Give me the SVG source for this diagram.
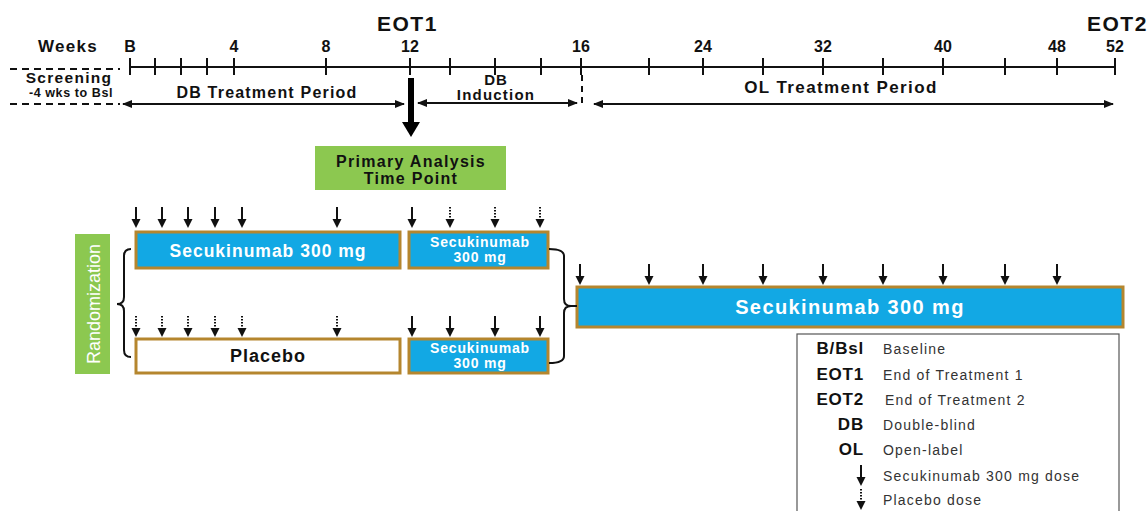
<svg xmlns="http://www.w3.org/2000/svg" xmlns:xlink="http://www.w3.org/1999/xlink" width="1148" height="511" viewBox="0 0 1148 511">
<style>
text{font-family:"Liberation Sans",Arial,sans-serif;}
.b{font-weight:bold;fill:#111;}
.tk{font-weight:bold;font-size:16px;fill:#111;text-anchor:middle;}
.eot{font-weight:bold;font-size:21px;fill:#111;letter-spacing:1.5px;}
.ln{stroke:#111;stroke-width:2;fill:none;}
.blue{fill:#12A8E4;stroke:#B5862E;stroke-width:3;}
.wbox{fill:#fff;stroke:#B5862E;stroke-width:3;}
.green{fill:#8CC850;}
.wt{font-weight:bold;fill:#fff;text-anchor:middle;}
.lg{font-size:14px;fill:#333;letter-spacing:1.2px;}
.la{font-weight:bold;font-size:17px;fill:#111;text-anchor:end;letter-spacing:0.8px;}
</style>
<defs>
<marker id="ah" viewBox="0 0 10 10" refX="9" refY="5" markerWidth="10" markerHeight="10" markerUnits="userSpaceOnUse" orient="auto-start-reverse">
<path d="M0,1 L10,5 L0,9 Z" fill="#111"/>
</marker>
<g id="dose">
<line x1="0" y1="0" x2="0" y2="14" stroke="#111" stroke-width="2"/>
<path d="M-4.5,12 L4.5,12 L0,21 Z" fill="#111"/>
</g>
<g id="pbo">
<line x1="0" y1="0" x2="0" y2="13" stroke="#111" stroke-width="2" stroke-dasharray="1.6,1.4"/>
<path d="M-4.5,12 L4.5,12 L0,21 Z" fill="#111"/>
</g>
</defs>
<rect width="1148" height="511" fill="#fff"/>

<g id="timeline">
<line class="ln" x1="130" y1="67" x2="1116" y2="67"/>
<g class="ln">
<line x1="130" y1="58" x2="130" y2="75"/><line x1="155" y1="58" x2="155" y2="75"/>
<line x1="181" y1="58" x2="181" y2="75"/><line x1="207" y1="58" x2="207" y2="75"/>
<line x1="234" y1="58" x2="234" y2="75"/><line x1="326" y1="58" x2="326" y2="75"/>
<line x1="410" y1="58" x2="410" y2="75"/><line x1="450" y1="58" x2="450" y2="75"/>
<line x1="495" y1="58" x2="495" y2="75"/><line x1="541" y1="58" x2="541" y2="75"/>
<line x1="581" y1="58" x2="581" y2="75"/><line x1="649" y1="58" x2="649" y2="75"/>
<line x1="703" y1="58" x2="703" y2="75"/><line x1="763" y1="58" x2="763" y2="75"/>
<line x1="823" y1="58" x2="823" y2="75"/><line x1="883" y1="58" x2="883" y2="75"/>
<line x1="943" y1="58" x2="943" y2="75"/><line x1="1005" y1="58" x2="1005" y2="75"/>
<line x1="1057" y1="58" x2="1057" y2="75"/><line x1="1115" y1="58" x2="1115" y2="75"/>
</g>
<text class="b" x="38" y="52" font-size="17" letter-spacing="1.3">Weeks</text>
<text class="tk" x="130" y="52">B</text>
<text class="tk" x="234" y="52">4</text>
<text class="tk" x="326" y="52">8</text>
<text class="tk" x="410" y="52">12</text>
<text class="tk" x="581" y="52">16</text>
<text class="tk" x="703" y="52">24</text>
<text class="tk" x="823" y="52">32</text>
<text class="tk" x="943" y="52">40</text>
<text class="tk" x="1057" y="52">48</text>
<text class="tk" x="1115" y="52">52</text>
<text class="eot" x="377" y="31">EOT1</text>
<text class="eot" x="1087" y="31">EOT2</text>
</g>

<g id="screening">
<line x1="10" y1="69" x2="120" y2="69" stroke="#111" stroke-width="2" stroke-dasharray="7,5"/>
<line x1="10" y1="104" x2="120" y2="104" stroke="#111" stroke-width="2" stroke-dasharray="7,5"/>
<text class="b" x="69" y="83" font-size="15.5" text-anchor="middle" letter-spacing="1.3">Screening</text>
<text class="b" x="71" y="97" font-size="12.5" text-anchor="middle" fill="#222" letter-spacing="0.6">-4 wks to Bsl</text>
</g>

<g id="periods">
<text class="b" x="267" y="98" font-size="16" text-anchor="middle" letter-spacing="1.2">DB Treatment Period</text>
<text class="b" x="496" y="85" font-size="15" text-anchor="middle" letter-spacing="1">DB</text>
<text class="b" x="496" y="100" font-size="15" text-anchor="middle" letter-spacing="1.2">Induction</text>
<text class="b" x="841" y="93" font-size="17" text-anchor="middle" letter-spacing="1.4">OL Treatment Period</text>
</g>

<g id="primary">
<rect class="green" x="315" y="146" width="191" height="44"/>
<text class="b" x="411" y="167" font-size="16" text-anchor="middle" letter-spacing="1.3">Primary Analysis</text>
<text class="b" x="411" y="184" font-size="16" text-anchor="middle" letter-spacing="1.3">Time Point</text>
</g>

<g id="randomization">
<rect class="green" x="75" y="234" width="35" height="140"/>
<text x="0" y="0" transform="translate(99.5,304) rotate(-90)" font-size="18" fill="#fff" text-anchor="middle">Randomization</text>
</g>

<g id="secuk-db">
<rect class="blue" x="136" y="232" width="264" height="36"/>
<text class="wt" x="268" y="257" font-size="17.5" letter-spacing="1">Secukinumab 300 mg</text>
</g>
<g id="secuk-ind-1">
<rect class="blue" x="409" y="232" width="139" height="36"/>
<text class="wt" x="480" y="247" font-size="14" letter-spacing="0.8">Secukinumab</text>
<text class="wt" x="480" y="262" font-size="14" letter-spacing="0.8">300 mg</text>
</g>
<g id="placebo">
<rect class="wbox" x="136" y="339" width="264" height="34"/>
<text class="b" x="268" y="362" font-size="18" text-anchor="middle" letter-spacing="1">Placebo</text>
</g>
<g id="secuk-ind-2">
<rect class="blue" x="409" y="339" width="139" height="34"/>
<text class="wt" x="480" y="353" font-size="14" letter-spacing="0.8">Secukinumab</text>
<text class="wt" x="480" y="368" font-size="14" letter-spacing="0.8">300 mg</text>
</g>
<g id="secuk-ol">
<rect class="blue" x="577" y="287" width="546" height="40"/>
<text class="wt" x="850" y="314" font-size="20" letter-spacing="1.4">Secukinumab 300 mg</text>
</g>

<g id="connectors">
<line class="ln" x1="123" y1="104" x2="404" y2="104" marker-start="url(#ah)" marker-end="url(#ah)"/>
<line class="ln" x1="418" y1="103" x2="577" y2="103" marker-start="url(#ah)" marker-end="url(#ah)"/>
<line class="ln" x1="594" y1="104" x2="1113" y2="104" marker-start="url(#ah)" marker-end="url(#ah)"/>
<line x1="582" y1="75" x2="582" y2="106" stroke="#111" stroke-width="2" stroke-dasharray="6,5"/>
<rect x="408" y="78" width="6" height="45" fill="#000"/>
<path d="M402,122 L420,122 L411,137 Z" fill="#000"/>
<path class="ln" d="M131,249 Q124,249 124,256 L124,297 Q124,304 117,304 Q124,304 124,311 L124,350 Q124,357 131,357"/>
<path class="ln" d="M549,249 Q564,249 564,256 L564,299 Q564,306 571,306 L577,306 M571,306 Q564,306 564,313 L564,356 Q564,363 549,363"/>
</g>

<g id="doses">
<use href="#dose" x="136" y="207"/><use href="#dose" x="162" y="207"/>
<use href="#dose" x="188" y="207"/><use href="#dose" x="215" y="207"/>
<use href="#dose" x="242" y="207"/><use href="#dose" x="337" y="207"/>
<use href="#dose" x="412" y="207"/><use href="#pbo" x="450" y="207"/>
<use href="#pbo" x="495" y="207"/><use href="#pbo" x="540" y="207"/>
<use href="#pbo" x="136" y="316"/><use href="#pbo" x="162" y="316"/>
<use href="#pbo" x="188" y="316"/><use href="#pbo" x="215" y="316"/>
<use href="#pbo" x="242" y="316"/><use href="#pbo" x="337" y="316"/>
<use href="#dose" x="412" y="316"/><use href="#dose" x="450" y="316"/>
<use href="#dose" x="495" y="316"/><use href="#dose" x="540" y="316"/>
<use href="#dose" x="580" y="264"/><use href="#dose" x="649" y="264"/>
<use href="#dose" x="703" y="264"/><use href="#dose" x="763" y="264"/>
<use href="#dose" x="823" y="264"/><use href="#dose" x="883" y="264"/>
<use href="#dose" x="943" y="264"/><use href="#dose" x="1005" y="264"/>
<use href="#dose" x="1057" y="264"/>
</g>

<g id="legend">
<rect x="797" y="334" width="322" height="190" fill="#fff" stroke="#555" stroke-width="1.2"/>
<text class="la" x="864" y="354">B/Bsl</text>
<text class="la" x="864" y="380">EOT1</text>
<text class="la" x="864" y="405">EOT2</text>
<text class="la" x="864" y="430">DB</text>
<text class="la" x="864" y="455">OL</text>
<text class="lg" x="883" y="354">Baseline</text>
<text class="lg" x="883" y="380">End of Treatment 1</text>
<text class="lg" x="885" y="405">End of Treatment 2</text>
<text class="lg" x="883" y="430">Double-blind</text>
<text class="lg" x="883" y="455">Open-label</text>
<text class="lg" x="883" y="481">Secukinumab 300 mg dose</text>
<text class="lg" x="883" y="505">Placebo dose</text>
<use href="#dose" x="861" y="465"/>
<use href="#pbo" x="861" y="489"/>
</g>
</svg>
